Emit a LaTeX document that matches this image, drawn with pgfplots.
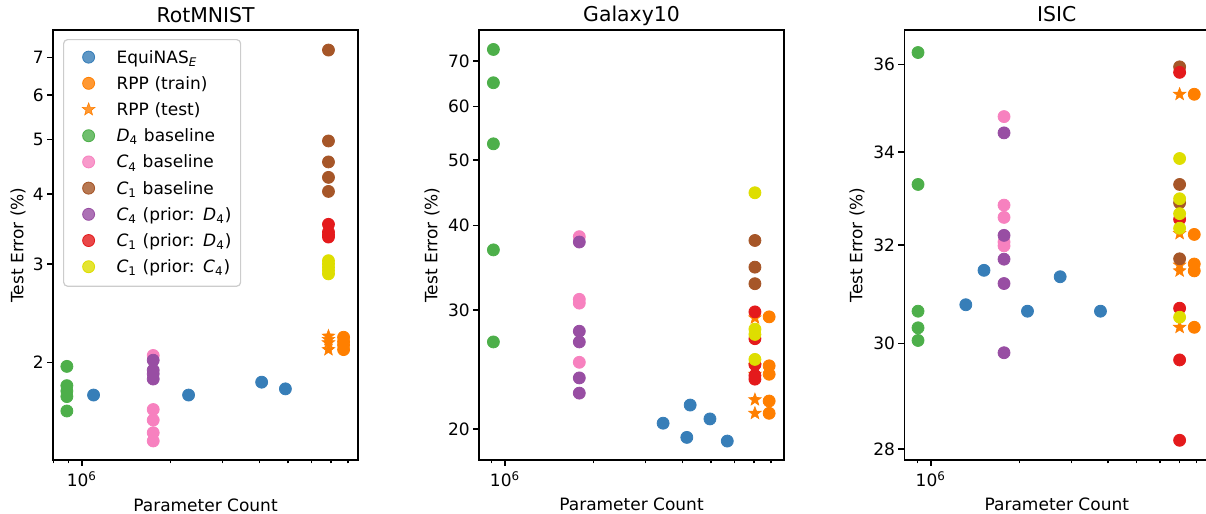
\documentclass[border=0pt]{standalone}
\usepackage{fontspec}
\setmainfont{DejaVu Sans}
\usepackage{pgfplots}
\pgfplotsset{compat=1.18}
\definecolor{cBlue}{HTML}{377EB8}
\definecolor{cOrange}{HTML}{FF7F00}
\definecolor{cGreen}{HTML}{4DAF4A}
\definecolor{cPink}{HTML}{F781BF}
\definecolor{cBrown}{HTML}{A65628}
\definecolor{cPurple}{HTML}{984EA3}
\definecolor{cRed}{HTML}{E41A1C}
\definecolor{cYellow}{HTML}{DEDE00}
\pgfdeclareplotmark{fstar}{%
  \pgfpathmoveto{\pgfpointpolar{90}{\pgfplotmarksize}}%
  \pgfpathlineto{\pgfpointpolar{126}{0.42\pgfplotmarksize}}%
  \pgfpathlineto{\pgfpointpolar{162}{\pgfplotmarksize}}%
  \pgfpathlineto{\pgfpointpolar{198}{0.42\pgfplotmarksize}}%
  \pgfpathlineto{\pgfpointpolar{234}{\pgfplotmarksize}}%
  \pgfpathlineto{\pgfpointpolar{270}{0.42\pgfplotmarksize}}%
  \pgfpathlineto{\pgfpointpolar{306}{\pgfplotmarksize}}%
  \pgfpathlineto{\pgfpointpolar{342}{0.42\pgfplotmarksize}}%
  \pgfpathlineto{\pgfpointpolar{18}{\pgfplotmarksize}}%
  \pgfpathlineto{\pgfpointpolar{54}{0.42\pgfplotmarksize}}%
  \pgfpathclose
  \pgfusepathqfillstroke
}
\pgfplotsset{
  myax/.style={
    scale only axis, width=152.5pt, height=215pt,
    axis line style={line width=0.7pt},
    every tick/.style={black, line width=0.7pt},
    tick align=outside, xtick pos=lower, ytick pos=left,
    major tick length=3pt, minor tick length=1.7pt,
    xtick={1e6}, xticklabels={10\textsuperscript{6}},
    minor xtick={8e5,9e5,2e6,3e6,4e6,5e6,6e6,7e6,8e6,9e6},
    font=\fontsize{8.5}{10}\selectfont,
    tick label style={font=\fontsize{8.5}{10}\selectfont},
    /pgf/number format/assume math mode=true,
    title style={font=\fontsize{10.2}{12}\selectfont, at={(axis description cs:0.5,1)}, anchor=base, yshift=-2pt},
    xlabel={Parameter Count}, ylabel={Test Error (\%)},
    xlabel style={at={(axis description cs:0.5,-0.1186)}, anchor=base},
    xticklabel style={anchor=base, inner sep=0pt, yshift=-10.3pt},
    yticklabel style={anchor=east, inner sep=0pt, xshift=-1.5pt},
    legend image code/.code={\path[draw=none,fill=none] (0pt,0.5pt) (23.5pt,0.5pt); \draw[##1] plot coordinates {(9.5pt,0.5pt)};},
  },
  dotmark/.style={only marks, mark=*, mark size=3pt, line width=0.4pt, color=#1},
  starmark/.style={only marks, mark=fstar, mark size=3.3pt, line width=0.3pt, color=#1},
}
\begin{document}
\begin{tikzpicture}
% ---------------- RotMNIST
\begin{loglogaxis}[myax, at={(26.5pt,-15pt)}, anchor=north west,
  title={RotMNIST},
  xmin=7.98e5, xmax=8.64e6, ymin=1.341, ymax=7.84,
  ytick={2,3,4,5,6,7}, yticklabels={2,3,4,5,6,7},
  ylabel style={at={(axis description cs:-0.097,0.5)}, anchor=base},
  legend cell align=left,
  legend style={at={(axis description cs:0.0328,0.979)}, anchor=north west,
    draw=black!20, line width=0.6pt, rounded corners=2pt, fill=white, fill opacity=0.8, text opacity=1,
    inner xsep=3pt, inner ysep=2.7pt, row sep=0pt,
    nodes={inner sep=0pt, minimum height=13.1pt, text width=59pt, align=left},
    font=\fontsize{8.5}{10}\selectfont},
]
\addplot[dotmark=cBlue] coordinates {(1.095e6,1.751) (2.30e6,1.751) (4.07e6,1.846) (4.90e6,1.796)};
\addlegendentry{EquiNAS\textsubscript{\textit{E}}}
\addplot[dotmark=cOrange] coordinates {(7.72e6,2.22) (7.72e6,2.18) (7.72e6,2.15) (7.72e6,2.11)};
\addlegendentry{RPP (train)}
\addplot[starmark=cOrange] coordinates {(6.86e6,2.23) (6.86e6,2.20) (6.86e6,2.17) (6.86e6,2.11)};
\addlegendentry{RPP (test)}
\addplot[dotmark=cGreen] coordinates {(0.889e6,1.97) (0.889e6,1.82) (0.889e6,1.78) (0.889e6,1.74) (0.889e6,1.64)};
\addlegendentry{\textit{D}\textsubscript{4} baseline}
\addplot[dotmark=cPink] coordinates {(1.745e6,2.06) (1.745e6,1.65) (1.745e6,1.58) (1.745e6,1.50) (1.745e6,1.45)};
\addlegendentry{\textit{C}\textsubscript{4} baseline}
\addplot[dotmark=cBrown] coordinates {(6.86e6,7.22) (6.86e6,4.97) (6.86e6,4.56) (6.86e6,4.28) (6.86e6,4.04)};
\addlegendentry{\textit{C}\textsubscript{1} baseline}
\addplot[dotmark=cPurple] coordinates {(1.745e6,2.02) (1.745e6,1.94) (1.745e6,1.91) (1.745e6,1.87)};
\addlegendentry{\textit{C}\textsubscript{4} (prior: \textit{D}\textsubscript{4})}
\addplot[dotmark=cRed] coordinates {(6.86e6,3.53) (6.86e6,3.42) (6.86e6,3.38) (6.86e6,3.35)};
\addlegendentry{\textit{C}\textsubscript{1} (prior: \textit{D}\textsubscript{4})}
\addplot[dotmark=cYellow] coordinates {(6.86e6,3.04) (6.86e6,3.00) (6.86e6,2.96) (6.86e6,2.92) (6.86e6,2.88)};
\addlegendentry{\textit{C}\textsubscript{1} (prior: \textit{C}\textsubscript{4})}
\end{loglogaxis}
% ---------------- Galaxy10
\begin{loglogaxis}[myax, at={(239.5pt,-15pt)}, anchor=north west,
  title={Galaxy10},
  xmin=8.16e5, xmax=8.85e6, ymin=18.0, ymax=77.8,
  ytick={20,30,40,50,60,70}, yticklabels={20,30,40,50,60,70},
  ylabel style={at={(axis description cs:-0.1364,0.5)}, anchor=base},
]
\addplot[dotmark=cBlue] coordinates {(3.44e6,20.4) (4.14e6,19.44) (4.25e6,21.7) (4.96e6,20.7) (5.68e6,19.2)};
\addplot[dotmark=cOrange] coordinates {(7.88e6,29.3) (7.88e6,24.8) (7.88e6,24.1) (7.88e6,22.0) (7.88e6,21.1)};
\addplot[starmark=cOrange] coordinates {(7.05e6,29.2) (7.05e6,24.8) (7.05e6,24.1) (7.05e6,22.1) (7.05e6,21.1)};
\addplot[dotmark=cGreen] coordinates {(0.913e6,72.8) (0.913e6,65.0) (0.913e6,52.8) (0.913e6,36.8) (0.913e6,26.9)};
\addplot[dotmark=cPink] coordinates {(1.787e6,38.5) (1.787e6,31.1) (1.787e6,30.7) (1.787e6,25.1)};
\addplot[dotmark=cBrown] coordinates {(7.05e6,38.0) (7.05e6,34.7) (7.05e6,32.8)};
\addplot[dotmark=cPurple] coordinates {(1.787e6,37.8) (1.787e6,27.9) (1.787e6,26.9) (1.787e6,23.8) (1.787e6,22.6)};
\addplot[dotmark=cRed] coordinates {(7.05e6,29.8) (7.05e6,27.2) (7.05e6,24.9) (7.05e6,24.0) (7.05e6,23.7)};
\addplot[dotmark=cYellow] coordinates {(7.05e6,44.7) (7.05e6,28.1) (7.05e6,27.6) (7.05e6,25.35)};
\end{loglogaxis}
% ---------------- ISIC
\begin{loglogaxis}[myax, at={(452.15pt,-15pt)}, anchor=north west,
  title={ISIC},
  xmin=8.13e5, xmax=8.83e6, ymin=27.80, ymax=36.83,
  ytick={28,30,32,34,36}, yticklabels={28,30,32,34,36},
  ylabel style={at={(axis description cs:-0.1377,0.5)}, anchor=base},
]
\addplot[dotmark=cBlue] coordinates {(1.315e6,30.77) (1.516e6,31.47) (2.13e6,30.64) (2.75e6,31.34) (3.77e6,30.64)};
\addplot[dotmark=cOrange] coordinates {(7.85e6,35.31) (7.85e6,32.22) (7.85e6,31.60) (7.85e6,31.46) (7.85e6,30.32)};
\addplot[starmark=cOrange] coordinates {(7.0e6,35.31) (7.0e6,32.24) (7.0e6,31.58) (7.0e6,31.46) (7.0e6,30.32)};
\addplot[dotmark=cGreen] coordinates {(0.905e6,36.29) (0.905e6,33.29) (0.905e6,30.64) (0.905e6,30.31) (0.905e6,30.06)};
\addplot[dotmark=cPink] coordinates {(1.773e6,34.80) (1.773e6,32.84) (1.773e6,32.58) (1.773e6,32.06) (1.773e6,31.98)};
\addplot[dotmark=cBrown] coordinates {(7.0e6,35.95) (7.0e6,33.29) (7.0e6,32.89) (7.0e6,31.71)};
\addplot[dotmark=cPurple] coordinates {(1.773e6,34.43) (1.773e6,32.20) (1.773e6,31.70) (1.773e6,31.20) (1.773e6,29.82)};
\addplot[dotmark=cRed] coordinates {(7.0e6,35.82) (7.0e6,32.54) (7.0e6,30.70) (7.0e6,29.68) (7.0e6,28.16)};
\addplot[dotmark=cYellow] coordinates {(7.0e6,33.86) (7.0e6,32.98) (7.0e6,32.66) (7.0e6,32.35) (7.0e6,30.52)};
\end{loglogaxis}
\pgfresetboundingbox
\path[use as bounding box] (0pt,0pt) rectangle (603pt,-257pt);
\end{tikzpicture}
\end{document}
